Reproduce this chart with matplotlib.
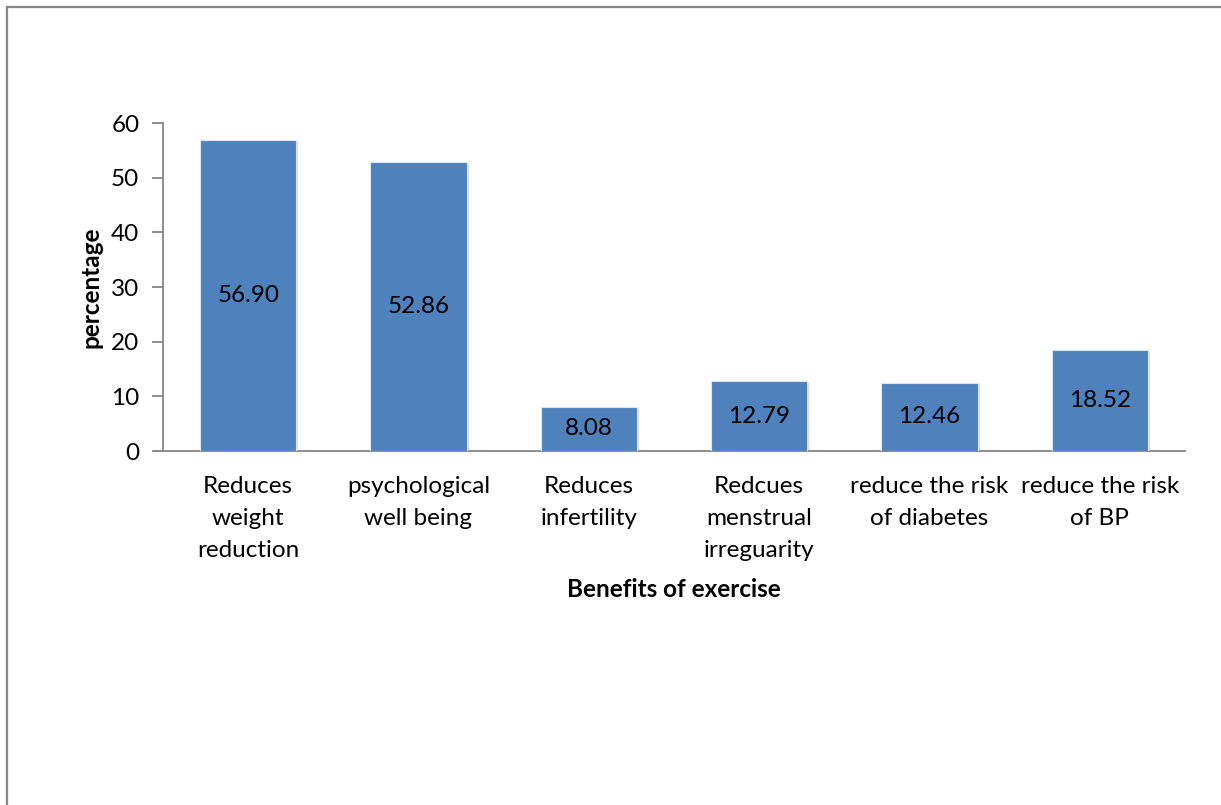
import matplotlib
matplotlib.use("Agg")
import matplotlib.pyplot as plt
from matplotlib.lines import Line2D
import matplotlib.patheffects as pe

categories = [
    "Reduces\nweight\nreduction",
    "psychological\nwell being",
    "Reduces\ninfertility",
    "Redcues\nmenstrual\nirreguarity",
    "reduce the risk\nof diabetes",
    "reduce the risk\nof BP",
]
values = [56.90, 52.86, 8.08, 12.79, 12.46, 18.52]
yticks = [0, 10, 20, 30, 40, 50, 60]

plt.rcParams['font.family'] = ['Lato', 'DejaVu Sans']

W, H = 1221, 805
fig = plt.figure(figsize=(W / 100, H / 100), dpi=100)
ax = fig.add_axes([163 / W, 1 - 451 / H, (1185 - 163) / W, (451 - 123) / H])

axis_col = "#868686"
bar_col = "#4F81BD"
fs = 17.5

x = list(range(len(categories)))
bars = ax.bar(x, values, width=0.565, color=bar_col, edgecolor="#dbe5f1",
              linewidth=0.8, zorder=3)
for b in bars:
    b.set_path_effects([pe.SimplePatchShadow(offset=(1.5, -1.5), shadow_rgbFace="#9a9a9a", alpha=0.35),
                        pe.Normal()])

for xi, v in zip(x, values):
    ax.text(xi, v / 2, f"{v:.2f}", ha="center", va="center", fontsize=fs,
            color="black", zorder=4)

ax.set_xlim(-0.5, len(categories) - 0.5)
ax.set_ylim(0, 60)
ax.set_yticks(yticks)
ax.set_yticklabels([str(t) for t in yticks])
ax.set_xticks(x)
ax.set_xticklabels(categories, fontsize=fs, linespacing=1.66)

for side in ("top", "right"):
    ax.spines[side].set_visible(False)
for side in ("left", "bottom"):
    ax.spines[side].set_color(axis_col)
    ax.spines[side].set_linewidth(1.3)
ax.spines["bottom"].set_bounds(-0.5 - 8 / 170.3, len(categories) - 0.5)

ax.tick_params(axis="y", direction="out", length=8, width=1.3, color=axis_col,
               pad=9, labelsize=fs)
ax.tick_params(axis="x", length=0, pad=18)

ax.set_ylabel("percentage", fontsize=fs, fontweight="bold", labelpad=6.5)
ax.set_xlabel("Benefits of exercise", fontsize=fs, fontweight="bold", labelpad=12)

# outer frame along the top and left of the figure
fig.add_artist(Line2D([7 / W, 1], [1 - 7 / H, 1 - 7 / H], color="#888888", linewidth=1.6,
                      transform=fig.transFigure))
fig.add_artist(Line2D([7 / W, 7 / W], [1 - 7 / H, 0], color="#888888", linewidth=1.6,
                      transform=fig.transFigure))

fig.savefig("out.png", dpi=100)
